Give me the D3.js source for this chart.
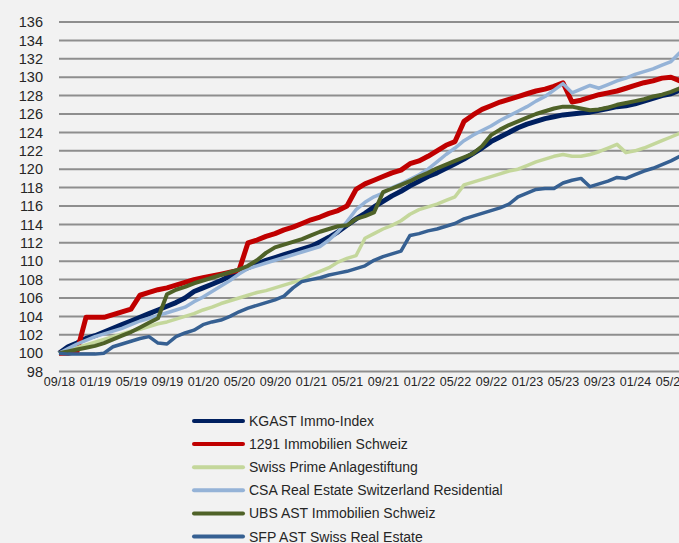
<!DOCTYPE html>
<html>
<head>
<meta charset="utf-8">
<script src="https://cdn.jsdelivr.net/npm/d3@7"></script>
<style>
  html, body { margin: 0; padding: 0; background: #f2f2f2; overflow: hidden; }
  svg { display: block; font-family: "Liberation Sans", Arial, sans-serif; }
</style>
</head>
<body>
<svg id="chart" width="679" height="543"></svg>
<script>
// Immobilien-Indizes, indexiert 09/18 = 100 (Monatswerte)

var tickLabels = ["09/18", "01/19", "05/19", "09/19", "01/20", "05/20", "09/20", "01/21",
                  "05/21", "09/21", "01/22", "05/22", "09/22", "01/23", "05/23", "09/23",
                  "01/24", "05/24"];

var yTicks = [98, 100, 102, 104, 106, 108, 110, 112, 114, 116, 118, 120, 122, 124, 126,
              128, 130, 132, 134, 136];

var seriesNames = ["KGAST Immo-Index", "1291 Immobilien Schweiz", "Swiss Prime Anlagestiftung",
                   "CSA Real Estate Switzerland Residential", "UBS AST Immobilien Schweiz",
                   "SFP AST Swiss Real Estate"];

var kgast = [100, 100.7, 101.1, 101.6, 101.9, 102.3, 102.7, 103.1, 103.5, 103.9,
             104.3, 104.7, 105.1, 105.5, 106.0, 106.7, 107.1, 107.5, 107.9, 108.4,
             108.9, 109.3, 109.7, 110.1, 110.4, 110.7, 111.0, 111.3, 111.6, 112.1,
             112.6, 113.2, 113.9, 114.6, 115.2, 115.9, 116.5, 117.1, 117.6, 118.2,
             118.7, 119.2, 119.6, 120.1, 120.6, 121.1, 121.7, 122.3, 123.0, 123.5,
             124.0, 124.5, 124.9, 125.2, 125.5, 125.7, 125.9, 126.0, 126.1, 126.2,
             126.4, 126.6, 126.8, 126.9, 127.1, 127.4, 127.7, 128.0, 128.2, 128.6];

var i1291 = [100, 100, 100.2, 103.9, 103.9, 103.9, 104.2, 104.5, 104.8, 106.3,
             106.6, 106.9, 107.1, 107.4, 107.7, 108.0, 108.2, 108.4, 108.6, 108.8,
             109.0, 112.0, 112.3, 112.7, 113.0, 113.4, 113.7, 114.1, 114.5, 114.8,
             115.2, 115.5, 116.0, 117.8, 118.4, 118.8, 119.2, 119.6, 119.9, 120.6,
             120.9, 121.4, 122.0, 122.6, 123.0, 125.2, 125.9, 126.5, 126.9, 127.3,
             127.6, 127.9, 128.2, 128.5, 128.7, 129.0, 129.4, 127.3, 127.5, 127.8,
             128.1, 128.3, 128.5, 128.8, 129.1, 129.4, 129.6, 129.9, 130.0, 129.6];

var swissPrime = [100, 100.3, 100.6, 100.9, 101.2, 101.5, 101.8, 102.1, 102.4, 102.6,
                  102.9, 103.2, 103.4, 103.7, 104.0, 104.3, 104.7, 105.0, 105.4, 105.7,
                  106.0, 106.3, 106.6, 106.8, 107.1, 107.4, 107.7, 108.0, 108.5, 108.9,
                  109.3, 109.9, 110.3, 110.6, 112.5, 113.0, 113.5, 113.9, 114.4, 115.1,
                  115.6, 115.9, 116.2, 116.6, 117.0, 118.3, 118.6, 118.9, 119.2, 119.5,
                  119.8, 120.0, 120.4, 120.8, 121.1, 121.4, 121.6, 121.4, 121.4, 121.6,
                  121.9, 122.3, 122.7, 121.8, 122.0, 122.3, 122.7, 123.1, 123.5, 123.9];

var csa = [100, 100.5, 101.0, 101.4, 101.8, 102.1, 102.4, 102.7, 103.1, 103.5,
           103.8, 104.1, 104.4, 104.7, 105.0, 105.6, 106.1, 106.7, 107.3, 107.9,
           108.6, 109.2, 109.5, 109.8, 110.1, 110.4, 110.7, 111.0, 111.3, 111.6,
           112.3, 113.2, 114.3, 115.6, 116.4, 117.0, 117.4, 118.0, 118.4, 118.9,
           119.4, 120.0, 120.8, 121.6, 122.3, 123.1, 123.7, 124.2, 124.7, 125.3,
           125.8, 126.3, 126.8, 127.4, 127.9, 128.6, 129.3, 128.3, 128.7, 129.1,
           128.8, 129.2, 129.6, 129.9, 130.3, 130.6, 130.9, 131.3, 131.7, 132.7];

var ubs = [100, 100.2, 100.4, 100.6, 100.8, 101.1, 101.5, 101.9, 102.3, 102.8,
           103.3, 103.8, 106.4, 106.9, 107.2, 107.6, 107.9, 108.2, 108.5, 108.8,
           109.1, 109.5, 110.1, 110.9, 111.5, 111.8, 112.1, 112.4, 112.8, 113.2,
           113.5, 113.8, 113.9, 114.6, 114.9, 115.3, 117.5, 117.9, 118.3, 118.7,
           119.2, 119.6, 120.1, 120.5, 120.9, 121.3, 121.7, 122.5, 123.7, 124.3,
           124.8, 125.2, 125.6, 126.0, 126.3, 126.6, 126.8, 126.8, 126.6, 126.4,
           126.5, 126.7, 127.0, 127.2, 127.4, 127.6, 127.9, 128.1, 128.4, 128.8];

var sfp = [100, 99.9, 99.9, 99.9, 99.9, 100.0, 100.7, 101.0, 101.3, 101.6,
           101.8, 101.1, 101.0, 101.8, 102.2, 102.5, 103.1, 103.4, 103.6, 104.0,
           104.5, 104.9, 105.2, 105.5, 105.8, 106.2, 107.1, 107.8, 108.0, 108.2,
           108.5, 108.7, 108.9, 109.2, 109.5, 110.1, 110.5, 110.8, 111.1, 112.8,
           113.0, 113.3, 113.5, 113.8, 114.1, 114.6, 114.9, 115.2, 115.5, 115.8,
           116.2, 117.0, 117.4, 117.8, 117.9, 117.9, 118.5, 118.8, 119.0, 118.1,
           118.4, 118.7, 119.1, 119.0, 119.4, 119.8, 120.1, 120.5, 120.9, 121.4];

var seriesValues = [kgast, i1291, swissPrime, csa, ubs, sfp];
var seriesColors = ["#002060", "#c00000", "#c4d79b", "#95b3d7", "#4f6228", "#366092"];
var seriesWidths = [5, 5, 3.5, 3.5, 4, 3.5];

var svg = d3.select("#chart");

// month index -> x (plot runs off the right edge, like the original crop)
var x = d3.scaleLinear().domain([0, 69]).range([59, 680]);
var y = d3.scaleLinear().domain([98, 136]).range([371.6, 22]);

///////////////////////////////////////////////////////////////////////////////
// Grid + axes

svg.append("g")
  .selectAll("line")
  .data(yTicks)
  .enter().append("line")
    .attr("x1", 59)
    .attr("x2", 700)
    .attr("y1", function (d) { return y(d); })
    .attr("y2", function (d) { return y(d); })
    .attr("stroke", "#8e8e8e")
    .attr("stroke-width", 2);

var yAxis = svg.append("g")
  .attr("transform", "translate(43,0)")
  .call(d3.axisLeft(y).tickValues(yTicks).tickSize(0).tickPadding(0));
yAxis.select(".domain").remove();
yAxis.selectAll("text")
  .attr("fill", "#262626")
  .style("font-size", "14.5px");

var xAxis = svg.append("g")
  .attr("transform", "translate(0,377)")
  .call(d3.axisBottom(x)
    .tickValues(d3.range(0, 69, 4))
    .tickFormat(function (d, i) { return tickLabels[i]; })
    .tickSize(0)
    .tickPadding(0));
xAxis.select(".domain").remove();
xAxis.selectAll("text")
  .attr("fill", "#262626")
  .style("font-size", "12.5px");

///////////////////////////////////////////////////////////////////////////////
// Lines

var line = d3.line()
  .x(function (d, i) { return x(i); })
  .y(function (d) { return y(d); });

svg.append("g")
  .selectAll("path")
  .data(seriesValues)
  .enter().append("path")
    .attr("d", line)
    .attr("fill", "none")
    .attr("stroke", function (d, i) { return seriesColors[i]; })
    .attr("stroke-width", function (d, i) { return seriesWidths[i]; })
    .attr("stroke-linejoin", "round");

///////////////////////////////////////////////////////////////////////////////
// Legend

var legend = svg.append("g")
  .selectAll("g")
  .data(seriesNames)
  .enter().append("g")
    .attr("transform", function (d, i) { return "translate(0," + (421 + i * 23.1) + ")"; });

legend.append("line")
  .attr("x1", 194)
  .attr("x2", 243)
  .attr("stroke", function (d, i) { return seriesColors[i]; })
  .attr("stroke-width", 4)
  .attr("stroke-linecap", "round");

legend.append("text")
  .attr("x", 249)
  .attr("dy", "0.36em")
  .attr("fill", "#262626")
  .style("font-size", "14px")
  .text(function (d) { return d; });
</script>
</body>
</html>
